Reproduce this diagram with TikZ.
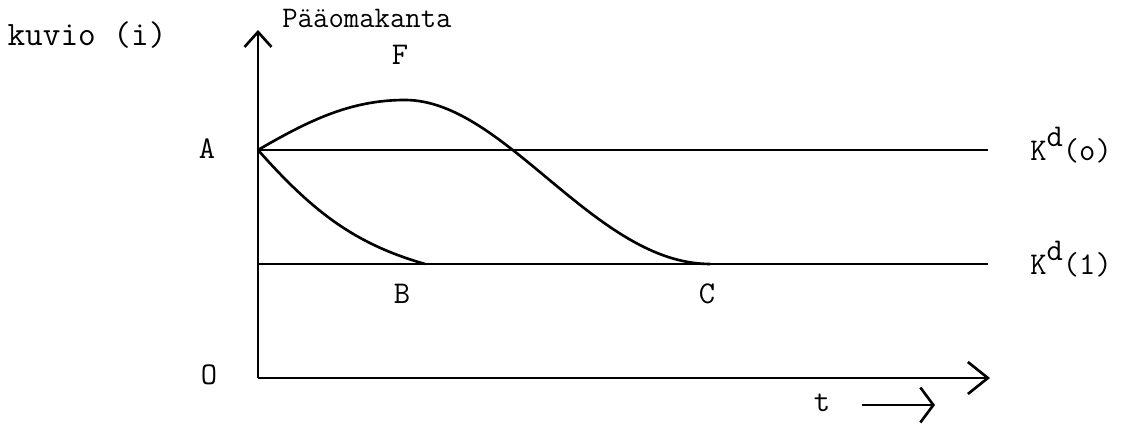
\documentclass[tikz,border=0pt]{standalone}
\usepackage{tikz}
\usetikzlibrary{arrows.meta}
\usepackage{tkz-euclide}

\tikzset{
  lbl/.style={inner sep=0pt, font=\ttfamily\fontsize{18}{20}\selectfont},
  axisline/.style={line width=1.5pt},
  curve/.style={line width=1.5pt},
}
\newcommand{\Kd}[1]{K\raisebox{0.45em}{d}(#1)}

\begin{document}
\begin{tikzpicture}
                \useasboundingbox (0,0) rectangle (22.48,-8.5);
                \tkzDefPoints{5.16/-7.56/O, 5.16/-0.6/Y, 19.8/-7.56/X,
                  5.16/-3.0/A, 19.76/-3.0/Ao, 5.16/-5.28/L, 19.76/-5.28/Li,
                  8.5/-5.28/B, 14.2/-5.28/C, 8.1/-2.0/P,
                  17.24/-8.1/T1, 18.7/-8.1/T2}
                % axes
                \draw[axisline, -{Straight Barb[length=3mm,width=5.4mm]}] (O) -- (Y);
                \draw[axisline, -{Straight Barb[length=4mm,width=6.4mm]}] (O) -- (X);
                % levels K^d(o) and K^d(1)
                \draw[axisline] (A) -- (Ao);
                \draw[axisline] (L) -- (Li);
                % paths to the new level
                \draw[curve] (A) .. controls (6.16,-2.42) and (7.0,-2.0) .. (P)
                  .. controls (10.1,-2.0) and (11.9,-5.28) .. (C);
                \draw[curve] (A) .. controls (6.26,-4.24) and (7.1,-4.88) .. (B);
                % labels
                \node[lbl, font=\ttfamily\fontsize{19.5}{21}\selectfont] (kuvio) at (1.74,-0.7) {kuvio (i)};
                \node[lbl, anchor=west, font=\ttfamily\fontsize{17}{19}\selectfont] (paa) at (5.64,-0.36) {Pääomakanta};
                \node[lbl] (lF) at (8.0,-1.1) {F};
                \node[lbl] (lA) at (4.14,-2.98) {A};
                \node[lbl] (lB) at (8.04,-5.88) {B};
                \node[lbl] (lC) at (14.14,-5.88) {C};
                \node[lbl] (lO) at (4.18,-7.5) {O};
                \node[lbl, anchor=base west] (k0) at (20.6,-3.22) {\Kd{o}};
                \node[lbl, anchor=base west] (k1) at (20.6,-5.5) {\Kd{1}};
                \node[lbl] (lt) at (16.44,-8.06) {t};
                \draw[line width=1.5pt, -{Straight Barb[length=2.6mm,width=7mm]}] (T1) -- (T2);
            \end{tikzpicture}
\end{document}
